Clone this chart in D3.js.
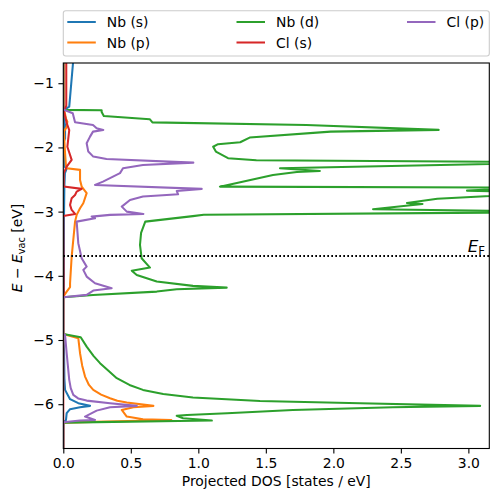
<!DOCTYPE html>
<html><head><meta charset="utf-8">
<script src="https://cdn.jsdelivr.net/npm/d3@7"></script>
<style>body{margin:0;background:#fff} text{font-family:"DejaVu Sans",sans-serif}</style>
</head><body><svg id="c" width="498" height="502"></svg>
<script>
// ---- data (energy in eV relative to vacuum, projected DOS in states/eV) ----
const seriesNames = ["Nb (s)", "Nb (p)", "Nb (d)", "Cl (s)", "Cl (p)"];
const xTicks = [0.0, 0.5, 1.0, 1.5, 2.0, 2.5, 3.0];
const yTicks = [-6, -5, -4, -3, -2, -1];
const fermiEnergy = -3.69;

const nbsE   = [-0.684, -1.364, -1.416, -1.60, -1.65, -1.86, -1.90, -2.30, -2.33, -2.40, -2.60, -3.10, -4.30, -4.333, -4.905, -5.20, -5.60, -5.777, -5.922, -5.984, -6.026, -6.047, -6.078, -6.14, -6.245, -6.287, -6.69];
const nbsDOS = [0.072, 0.044, 0.005, 0.008, 0.013, 0.013, 0.005, 0.01, 0.025, 0.012, 0.008, 0.005, 0.005, 0, 0, 0.006, 0.008, 0.013, 0.05, 0.111, 0.198, 0.124, 0.05, 0.025, 0.02, 0, 0];

const nbpE   = [-0.684, -1.40, -1.55, -1.60, -1.68, -1.75, -2.0, -2.30, -2.324, -2.35, -2.506, -2.61, -2.713, -2.869, -2.947, -3.051, -3.156, -3.70, -4.115, -4.178, -4.246, -4.324, -4.905, -4.972, -5.206, -5.40, -5.57, -5.70, -5.777, -5.85, -5.907, -5.945, -5.975, -6.026, -6.047, -6.089, -6.193, -6.234, -6.245, -6.287, -6.69];
const nbpDOS = [0.005, 0.005, 0.02, 0.03, 0.025, 0.005, 0.01, 0.02, 0.025, 0.124, 0.124, 0.136, 0.173, 0.148, 0.124, 0.099, 0.087, 0.062, 0.05, 0.05, 0.025, 0, 0, 0.111, 0.124, 0.14, 0.161, 0.19, 0.222, 0.28, 0.346, 0.40, 0.47, 0.667, 0.519, 0.433, 0.47, 0.59, 0.80, 0, 0];

const nbdE   = [-0.684, -1.415, -1.42, -1.447, -1.51, -1.56, -1.61, -1.65, -1.727, -1.754, -1.847, -1.92, -1.95, -1.99, -2.065, -2.168, -2.20, -2.23, -2.324, -2.366, -2.382, -2.428, -2.611, -2.626, -2.673, -2.71, -2.80, -2.865, -2.88, -2.963, -3.005, -3.05, -3.07, -3.156, -3.33, -3.52, -3.726, -3.872, -3.92, -3.986, -4.09, -4.157, -4.184, -4.209, -4.246, -4.298, -4.333, -4.905, -4.956, -5.103, -5.25, -5.361, -5.47, -5.595, -5.70, -5.777, -5.84, -5.897, -5.949, -5.984, -6.026, -6.047, -6.089, -6.14, -6.167, -6.182, -6.218, -6.255, -6.287, -6.69];
const nbdDOS = [0, 0, 0.284, 0.284, 0.30, 0.64, 0.66, 1.80, 2.78, 1.98, 1.38, 1.31, 1.146, 1.11, 1.13, 1.22, 1.43, 3.8, 1.605, 1.90, 1.73, 1.553, 1.16, 3.5, 2.99, 3.6, 2.77, 2.545, 2.66, 2.294, 3.8, 1.04, 0.96, 0.607, 0.576, 0.568, 0.58, 0.642, 0.507, 0.544, 0.692, 0.96, 1.21, 0.84, 0.692, 0.22, 0, 0, 0.129, 0.173, 0.225, 0.272, 0.33, 0.396, 0.49, 0.59, 0.74, 0.96, 1.457, 2.198, 3.087, 2.44, 1.70, 1.213, 0.916, 0.84, 0.887, 1.10, 0, 0];

const clsE   = [-0.684, -1.35, -1.40, -1.42, -1.62, -1.73, -1.99, -2.195, -2.30, -2.40, -2.61, -2.646, -2.689, -2.74, -2.79, -2.896, -2.974, -3.036, -3.067, -4.30, -4.333, -6.69];
const clsDOS = [0.022, 0.022, 0.01, 0.003, 0.025, 0.044, 0.03, 0.062, 0.025, 0.003, 0.003, 0.136, 0.099, 0.087, 0.062, 0.05, 0.062, 0.087, 0, 0.003, 0, 0];

const clpE   = [-0.684, -1.41, -1.467, -1.607, -1.65, -1.70, -1.727, -1.754, -1.832, -1.935, -2.065, -2.143, -2.18, -2.237, -2.273, -2.324, -2.40, -2.455, -2.533, -2.584, -2.646, -2.678, -2.73, -2.74, -2.766, -2.818, -2.922, -3.0, -3.036, -3.051, -3.078, -3.103, -3.156, -3.492, -3.726, -3.857, -3.908, -4.012, -4.115, -4.193, -4.23, -4.297, -4.333, -4.905, -4.92, -5.206, -5.621, -5.75, -5.855, -5.91, -5.944, -5.984, -6.026, -6.047, -6.10, -6.193, -6.245, -6.255, -6.28, -6.69];
const clpDOS = [0, 0, 0.07, 0.087, 0.22, 0.247, 0.296, 0.22, 0.198, 0.173, 0.185, 0.222, 0.32, 0.963, 0.59, 0.442, 0.42, 0.368, 0.294, 0.235, 1.025, 0.84, 0.85, 0.766, 0.59, 0.494, 0.433, 0.47, 0.593, 0.346, 0.21, 0.235, 0.099, 0.111, 0.136, 0.173, 0.148, 0.173, 0.235, 0.358, 0.222, 0.173, 0, 0, 0.013, 0.025, 0.044, 0.055, 0.074, 0.11, 0.173, 0.346, 0.544, 0.346, 0.247, 0.161, 0.235, 0.124, 0, 0];

// ---- styles ----
const colors = ["#1f77b4", "#ff7f0e", "#2ca02c", "#d62728", "#9467bd"];
const energies = [nbsE, nbpE, nbdE, clsE, clpE];
const doses = [nbsDOS, nbpDOS, nbdDOS, clsDOS, clpDOS];

const svg = d3.select("#c");
const L = 63.3, R = 489.3, T = 63, B = 448.5;
const x = d3.scaleLinear().domain([0, 3.155]).range([L, R]);
const y = d3.scaleLinear().domain([-6.69, -0.685]).range([B, T]);
const FS = 13.9;

svg.append("defs").append("clipPath").attr("id", "clip")
  .append("rect").attr("x", L).attr("y", T).attr("width", R - L).attr("height", B - T);

const plot = svg.append("g").attr("clip-path", "url(#clip)");
const line = d3.line().x(d => x(d[1])).y(d => y(d[0]));
seriesNames.forEach((name, i) => {
  const pts = energies[i].map((e, k) => [e, doses[i][k]]);
  plot.append("path").attr("d", line(pts)).attr("fill", "none")
    .attr("stroke", colors[i]).attr("stroke-width", 2.05)
    .attr("stroke-linejoin", "round").attr("stroke-linecap", "square");
});

// Fermi level
plot.append("line").attr("x1", L).attr("x2", R)
  .attr("y1", y(fermiEnergy)).attr("y2", y(fermiEnergy))
  .attr("stroke", "#000").attr("stroke-width", 2)
  .attr("stroke-dasharray", "1.7,2.3");
const ef = svg.append("text").attr("x", 485).attr("y", 251.5)
  .attr("text-anchor", "end").attr("font-size", 16.7);
ef.append("tspan").attr("font-style", "italic").text("E");
ef.append("tspan").attr("font-size", 11.7).attr("dy", 3).text("F");

// axes
const fmtY = d => (d < 0 ? "\u2212" : "") + Math.abs(d);
const xAxis = d3.axisBottom(x).tickValues(xTicks).tickFormat(d3.format(".1f"))
  .tickSize(4.9).tickPadding(4.6);
const yAxis = d3.axisLeft(y).tickValues(yTicks).tickFormat(fmtY)
  .tickSize(4.9).tickPadding(4.6);
const gx = svg.append("g").attr("transform", `translate(0,${B})`).call(xAxis);
const gy = svg.append("g").attr("transform", `translate(${L},0)`).call(yAxis);
[gx, gy].forEach(g => {
  g.select(".domain").remove();
  g.selectAll("line").attr("stroke", "#000").attr("stroke-width", 1.1);
  g.selectAll("text").attr("font-size", FS).attr("fill", "#000")
    .attr("font-family", "DejaVu Sans");
});
svg.append("rect").attr("x", L).attr("y", T).attr("width", R - L).attr("height", B - T)
  .attr("fill", "none").attr("stroke", "#000").attr("stroke-width", 1.1);

// axis labels
svg.append("text").attr("x", (L + R) / 2).attr("y", 486).attr("text-anchor", "middle")
  .attr("font-size", FS).text("Projected DOS [states / eV]");
const yl = svg.append("text").attr("transform", "translate(22,248) rotate(-90)")
  .attr("text-anchor", "middle").attr("font-size", FS);
yl.append("tspan").attr("font-style", "italic").text("E");
yl.append("tspan").text(" \u2212 ");
yl.append("tspan").attr("font-style", "italic").text("E");
yl.append("tspan").attr("font-size", 9.7).attr("dy", 2.5).text("vac");
yl.append("tspan").attr("dy", -2.5).text(" [eV]");

// legend
const lg = svg.append("g");
lg.append("rect").attr("x", 63.3).attr("y", 10.7).attr("width", 426).attr("height", 45.3)
  .attr("rx", 2.5).attr("fill", "#fff").attr("fill-opacity", 0.8)
  .attr("stroke", "#cccccc").attr("stroke-width", 1.1);
const colX = [67.3, 236.5, 407];
const rowY = [22, 42.5];
seriesNames.forEach((name, i) => {
  const c = Math.floor(i / 2), r = i % 2;
  const gx0 = colX[c], gy0 = rowY[r];
  lg.append("line").attr("x1", gx0).attr("x2", gx0 + 28.5).attr("y1", gy0).attr("y2", gy0)
    .attr("stroke", colors[i]).attr("stroke-width", 2.05);
  lg.append("text").attr("x", gx0 + 39.5).attr("y", gy0 + 5).attr("font-size", FS).text(name);
});
</script></body></html>
